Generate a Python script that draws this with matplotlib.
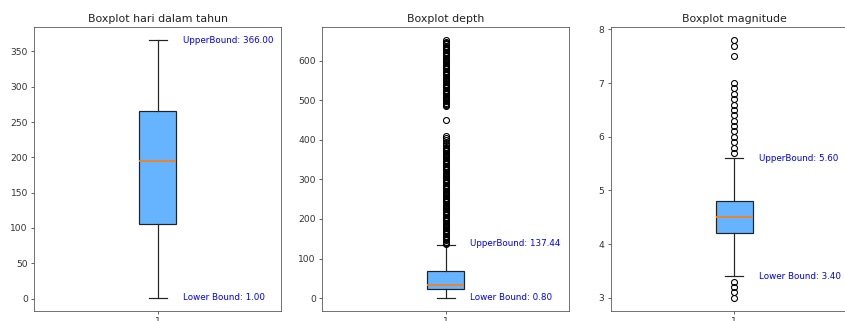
import matplotlib
matplotlib.use("Agg")
import matplotlib.pyplot as plt

titles = ["Boxplot hari dalam tahun", "Boxplot depth", "Boxplot magnitude"]

# box statistics: q1, median, q3, whisker low, whisker high
q1 = [106, 24.0, 4.2]
med = [195, 33, 4.5]
q3 = [266, 69.4, 4.8]
whislo = [1, 0.8, 3.4]
whishi = [366, 135, 5.6]

lower_bound = [1.00, 0.80, 3.40]
upper_bound = [366.00, 137.44, 5.60]

fliers_day = []
fliers_depth = [
    138, 140, 143, 146, 149, 152, 155, 158, 161, 164, 167, 170, 173, 176, 179,
    182, 185, 188, 191, 194, 197, 200, 203, 206, 209, 212, 215, 218, 221, 224,
    227, 230, 233, 236, 239, 242, 245, 248, 251, 254, 257, 260, 263, 266, 269,
    272, 275, 278, 281, 284, 287, 290, 293, 296, 299, 302, 305, 308, 311, 314,
    317, 320, 323, 326, 329, 332, 335, 338, 341, 344, 347, 350, 353, 356, 359,
    362, 365, 368, 371, 374, 377, 380, 383, 386, 392, 400, 405, 410, 450,
    485, 488, 491, 494, 497, 500, 503, 506, 509, 512, 515, 518, 521, 524, 527,
    530, 533, 536, 539, 542, 545, 548, 551, 554, 557, 560, 563, 566, 569, 572,
    575, 578, 581, 584, 587, 590, 593, 596, 599, 602, 605, 608, 611, 614, 617,
    620, 623, 626, 629, 632, 635, 638, 641, 645, 648, 652,
]
fliers_mag = [5.7, 5.8, 5.9, 6.0, 6.1, 6.2, 6.3, 6.4, 6.5, 6.6, 6.7, 6.8, 6.9, 7.0,
              7.5, 7.7, 7.8, 3.0, 3.1, 3.2, 3.3]
fliers = [fliers_day, fliers_depth, fliers_mag]

DPI = 66
plt.rcParams['xtick.color'] = '#333333'
plt.rcParams['ytick.color'] = '#333333'
plt.rcParams['axes.edgecolor'] = '#444444'

fig = plt.figure(figsize=(845 / DPI, 321 / DPI), dpi=DPI)
lefts = [0.0406, 0.3814, 0.7227]
for i in range(3):
    ax = fig.add_axes([lefts[i], 0.0321, 0.2923, 0.883])
    stats = [{
        "q1": q1[i], "med": med[i], "q3": q3[i],
        "whislo": whislo[i], "whishi": whishi[i],
        "fliers": fliers[i], "label": "1",
    }]
    ax.bxp(stats, patch_artist=True, widths=0.15,
           boxprops=dict(facecolor="#66b3ff", edgecolor="#222222", linewidth=1.3),
           whiskerprops=dict(color="#222222", linewidth=1.3),
           capprops=dict(color="#222222", linewidth=1.3),
           medianprops=dict(color="#ff7f0e", linewidth=1.9, zorder=5),
           flierprops=dict(marker="o", markersize=6.5, markerfacecolor="none",
                           markeredgecolor="black", markeredgewidth=1.2))
    ax.set_title(titles[i], color="#222222")
    ax.text(1.1, upper_bound[i], f"UpperBound: {upper_bound[i]:.2f}", color="blue", va="center", fontsize=9.5)
    ax.text(1.1, lower_bound[i], f"Lower Bound: {lower_bound[i]:.2f}", color="blue", va="center", fontsize=9.5)

fig.savefig("out.png", dpi=DPI)
